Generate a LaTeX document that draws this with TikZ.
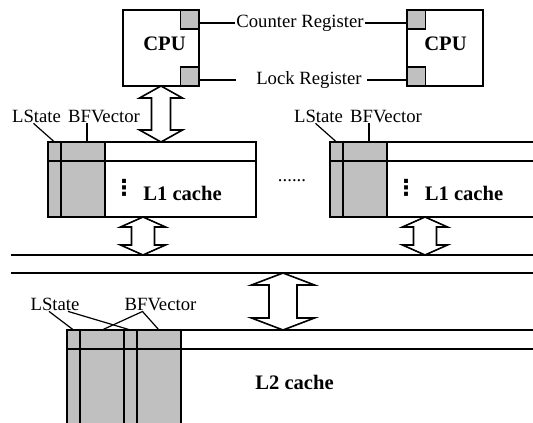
\documentclass[tikz,border=0pt]{standalone}
\usepackage{fontspec}
\setmainfont{Liberation Serif}
\newfontfamily\symfont{DejaVu Sans}
\usetikzlibrary{calc}
\definecolor{regfill}{HTML}{C0C0C0}

% hollow two-headed arrow between an upper tip #1 and a lower tip #2
\newcommand{\hollowarrow}[5]{%
  \draw[fatarrow] (#1) -- ($(#1)+(#3,#5)$) -- ($(#1)+(#4,#5)$)
    -- ($(#2)+(#4,-#5)$) -- ($(#2)+(#3,-#5)$) -- (#2)
    -- ($(#2)+(-#3,-#5)$) -- ($(#2)+(-#4,-#5)$)
    -- ($(#1)+(-#4,#5)$) -- ($(#1)+(-#3,#5)$) -- cycle;}

\begin{document}
\begin{tikzpicture}[
  x=1pt,
  y=-1pt,
  every node/.style={inner sep=1pt},
  txt/.style={font=\fontsize{18.7}{20}\selectfont},
  bold/.style={font=\fontsize{20.6}{22}\bfseries\selectfont},
  cpubox/.style={draw, line width=1.6pt, minimum width=76pt, minimum height=76pt, inner sep=0pt, outer sep=0pt},
  regbox/.style={draw, fill=regfill, line width=1.4pt, minimum width=18.5pt, minimum height=19pt, inner sep=0pt, outer sep=0pt},
  cachebox/.style={draw, line width=1.6pt, inner sep=0pt, outer sep=0pt, anchor=north west},
  lstatecol/.style={draw, fill=regfill, line width=1.6pt, minimum width=13pt, inner sep=0pt, outer sep=0pt, anchor=north west},
  bfcol/.style={lstatecol, minimum width=44pt},
  wire/.style={line width=1.3pt},
  leader/.style={line width=1.2pt},
  bus/.style={line width=1.8pt},
  fatarrow/.style={draw, fill=white, line width=1.6pt, line join=miter},
  vdotcol/.style={font=\fontsize{22}{24}\symfont\bfseries, inner sep=0pt}
]
  % ---- frame -------------------------------------------------------------
  \useasboundingbox (0,0) rectangle (533,423);
  \clip (0,0) rectangle (533,423);

  % ---- the two processors ------------------------------------------------
  \node[cpubox] (cpuA) at (161,48) {};
  \node[cpubox] (cpuB) at (445,48) {};
  \node[bold] (cpuTxtA) at ([xshift=3.5pt,yshift=4.5pt]cpuA.center) {CPU};
  \node[bold] (cpuTxtB) at ([xshift=0.5pt,yshift=4.5pt]cpuB.center) {CPU};
  \node[regbox, anchor=north east] (ctrA) at (cpuA.north east) {};
  \node[regbox, anchor=south east] (lckA) at (cpuA.south east) {};
  \node[regbox, anchor=north west] (ctrB) at (cpuB.north west) {};
  \node[regbox, anchor=south west] (lckB) at (cpuB.south west) {};

  % ---- shared registers --------------------------------------------------
  \node[txt] (ctrTxt) at (300,23) {Counter Register};
  \draw[wire] (ctrTxt.west) -- (ctrTxt.west -| ctrA.east);
  \draw[wire] (ctrTxt.east) -- (ctrTxt.east -| ctrB.west);
  \node[txt] (lckTxt) at (309,80) {Lock Register};
  \coordinate (lckEnd) at ([xshift=-19pt]lckTxt.west);
  \draw[wire] (lckEnd -| lckA.east) -- (lckEnd);
  \draw[wire] ([xshift=4pt]lckTxt.east) -- (lckTxt.east -| lckB.west);

  % ---- L1 caches -----------------------------------------------------------
  \node[cachebox, minimum width=208pt, minimum height=75pt] (l1A) at (48,142) {};
  \node[cachebox, minimum width=260pt, minimum height=75pt] (l1B) at (330,142) {};
  \node[lstatecol, minimum height=75pt] (lsA) at (l1A.north west) {};
  \node[bfcol, minimum height=75pt] (bfA) at (lsA.north east) {};
  \node[lstatecol, minimum height=75pt] (lsB) at (l1B.north west) {};
  \node[bfcol, minimum height=75pt] (bfB) at (lsB.north east) {};
  \draw[bus] ([yshift=-19pt]l1A.north west) -- ([yshift=-19pt]l1A.north east);
  \draw[bus] ([yshift=-19pt]l1B.north west) -- ([yshift=-19pt]l1B.north east);
  \node[vdotcol] (vdA) at (124,187.5) {⋮};
  \node[vdotcol] (vdB) at (406,187.5) {⋮};
  \node[bold] (l1TxtA) at (182.5,193) {L1 cache};
  \node[bold] (l1TxtB) at (464,193) {L1 cache};
  \node[txt, anchor=base] (gap) at (292,181) {......};

  \node[txt, anchor=base] (lsTxtA) at (36.5,122) {LState};
  \node[txt, anchor=base] (bfTxtA) at (104,122) {BFVector};
  \draw[leader] ([xshift=-3pt]lsTxtA.south) -- (lsA.north);
  \draw[leader] ([xshift=4pt]bfA.north) -- ([xshift=4pt]bfA.north |- bfTxtA.south);
  \node[txt, anchor=base] (lsTxtB) at (318.5,122) {LState};
  \node[txt, anchor=base] (bfTxtB) at (386,122) {BFVector};
  \draw[leader] ([xshift=-3pt]lsTxtB.south) -- (lsB.north);
  \draw[leader] ([xshift=4pt]bfB.north) -- ([xshift=4pt]bfB.north |- bfTxtB.south);

  % ---- bus ---------------------------------------------------------------
  \coordinate (busA) at (11,255);
  \coordinate (busB) at (11,273);
  \draw[bus] (busA) -- ++(540,0);
  \draw[bus] (busB) -- ++(540,0);

  % ---- L2 cache ----------------------------------------------------------
  \node[cachebox, minimum width=480pt, minimum height=110pt] (l2) at (67,330) {};
  \node[lstatecol, minimum height=110pt] (lsC) at (l2.north west) {};
  \node[bfcol, minimum height=110pt] (bfC) at (lsC.north east) {};
  \node[lstatecol, minimum height=110pt] (lsD) at (bfC.north east) {};
  \node[bfcol, minimum height=110pt] (bfD) at (lsD.north east) {};
  \draw[bus] ([yshift=-19pt]l2.north west) -- ([yshift=-19pt]l2.north east);
  \node[bold] (l2Txt) at (294.5,382) {L2 cache};

  \node[txt, anchor=base] (lsTxtC) at (55,310) {LState};
  \node[txt, anchor=base] (bfTxtC) at (160.5,310) {BFVector};
  \draw[leader] ([xshift=-6pt]lsTxtC.south) -- (lsC.north);
  \draw[leader] ([xshift=13pt]lsTxtC.south) -- (lsD.north);
  \draw[leader] (bfC.north) -- ([xshift=-18pt]bfTxtC.south) -- (bfD.north);

  % ---- hollow arrows -------------------------------------------------------
  \coordinate (arUpA) at (cpuA.south);
  \coordinate (arDnA) at (cpuA.south |- l1A.north);
  \coordinate (arUpB) at ([xshift=95pt]l1A.south west);
  \coordinate (arDnB) at (arUpB |- busA);
  \coordinate (arUpC) at ([xshift=95pt]l1B.south west);
  \coordinate (arDnC) at (arUpC |- busA);
  \coordinate (arDnD) at ([xshift=216pt]l2.north west);
  \coordinate (arUpD) at (arDnD |- busB);
  \hollowarrow{arUpA}{arDnA}{21.5}{9.5}{12}
  \hollowarrow{arUpB}{arDnB}{22.5}{11.5}{10}
  \hollowarrow{arUpC}{arDnC}{22.5}{11.5}{10}
  \hollowarrow{arUpD}{arDnD}{31.5}{14}{12}
\end{tikzpicture}
\end{document}
